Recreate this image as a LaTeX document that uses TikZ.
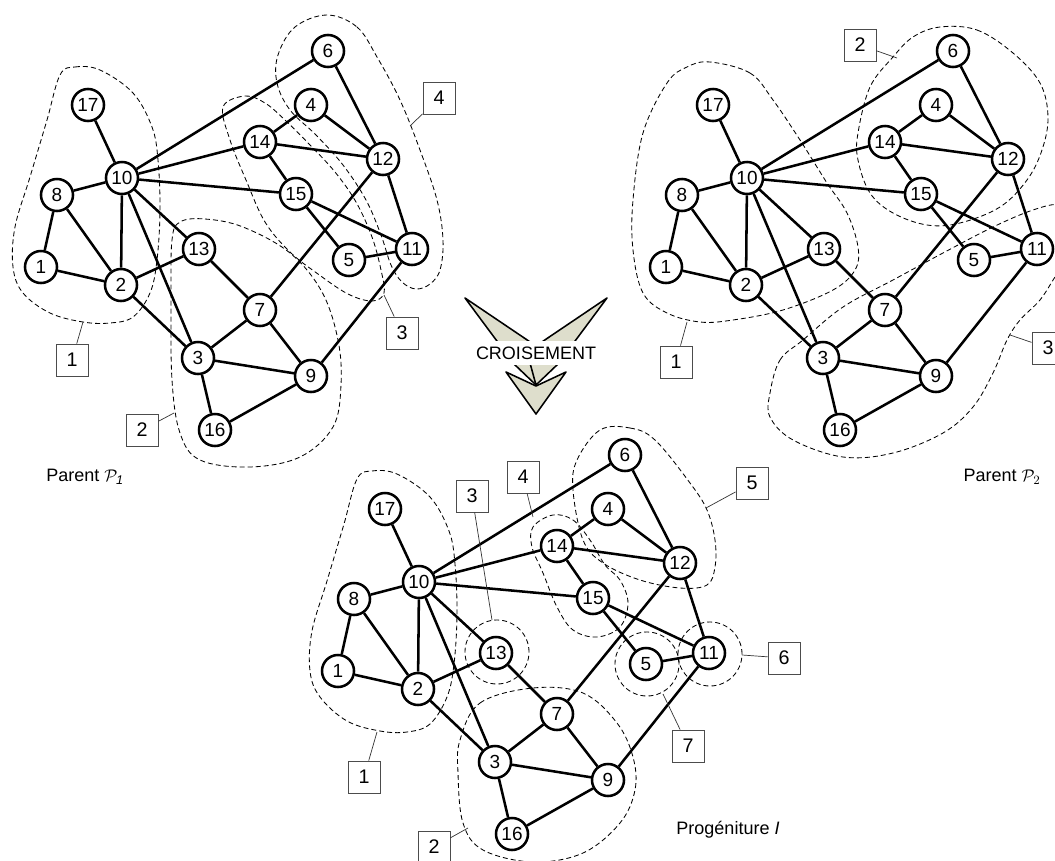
\documentclass[tikz,border=0pt]{standalone}
\usepackage{fontspec}
\setmainfont{Liberation Sans}

\definecolor{kaki}{RGB}{222,222,204}

\tikzset{
  sommet/.style={circle,draw,line width=1.8pt,fill=white,minimum size=0.8cm,inner sep=0pt,font=\fontsize{13.5}{15}\selectfont},
  arete/.style={line width=1.8pt},
  zone/.style={dash pattern=on 3.5pt off 2.2pt,line width=0.6pt},
  etiq/.style={draw=black!70,line width=0.6pt,fill=white,minimum size=0.8cm,inner sep=0pt,font=\fontsize{14}{16}\selectfont},
  renvoi/.style={line width=0.5pt,black!80},
  fleche/.style={draw,fill=kaki,line width=1.1pt,line join=round}
}

% un graphe complet, #1 = prefixe des noms
\newcommand{\graphe}[1]{%
  \node[sommet] (#1-1)  at (41,267)  {1};
  \node[sommet] (#1-2)  at (121,285) {2};
  \node[sommet] (#1-3)  at (198,358) {3};
  \node[sommet] (#1-4)  at (311,105) {4};
  \node[sommet] (#1-5)  at (349,260) {5};
  \node[sommet] (#1-6)  at (328,51)  {6};
  \node[sommet] (#1-7)  at (260,310) {7};
  \node[sommet] (#1-8)  at (57,195)  {8};
  \node[sommet] (#1-9)  at (311,376) {9};
  \node[sommet] (#1-10) at (122,178) {10};
  \node[sommet] (#1-11) at (412,249) {11};
  \node[sommet] (#1-12) at (383,159) {12};
  \node[sommet] (#1-13) at (199,249) {13};
  \node[sommet] (#1-14) at (260,142) {14};
  \node[sommet] (#1-15) at (296,194) {15};
  \node[sommet] (#1-16) at (215,430) {16};
  \node[sommet] (#1-17) at (88,105)  {17};
  \draw[arete] (#1-17) -- (#1-10) (#1-10) -- (#1-8) (#1-10) -- (#1-6)
    (#1-10) -- (#1-14) (#1-10) -- (#1-15) (#1-10) -- (#1-2) (#1-10) -- (#1-13)
    (#1-10) -- (#1-3) (#1-8) -- (#1-1) (#1-8) -- (#1-2) (#1-1) -- (#1-2)
    (#1-2) -- (#1-13) (#1-2) -- (#1-3) (#1-13) -- (#1-7) (#1-7) -- (#1-3)
    (#1-7) -- (#1-9) (#1-7) -- (#1-12) (#1-3) -- (#1-9) (#1-3) -- (#1-16)
    (#1-16) -- (#1-9) (#1-9) -- (#1-11) (#1-11) -- (#1-5) (#1-11) -- (#1-15)
    (#1-11) -- (#1-12) (#1-15) -- (#1-5) (#1-15) -- (#1-14) (#1-14) -- (#1-4)
    (#1-14) -- (#1-12) (#1-4) -- (#1-12) (#1-6) -- (#1-12);
}

\begin{document}
\begin{tikzpicture}[x=0.025cm,y=-0.025cm,font=\fontsize{12.8}{15}\selectfont]
\useasboundingbox (0,0) rectangle (1055,861);

% parent 1
\draw[zone] plot[smooth cycle,tension=0.6] coordinates {(60,75) (75,67) (100,70) (133,93) (152,127) (158,160) (160,210) (157,260) (150,293) (133,317) (110,323) (83,322) (50,313) (23,293) (13,267) (15,227) (30,177) (47,120)};
\draw[zone] plot[smooth cycle,tension=0.6] coordinates {(180,222) (205,219) (243,227) (290,253) (322,292) (338,340) (341,385) (333,427) (300,457) (250,467) (200,460) (180,433) (172,380) (171,300) (172,240)};
\draw[zone] plot[smooth cycle,tension=0.6] coordinates {(223,107) (245,96) (265,103) (285,120) (310,145) (335,172) (356,202) (372,237) (381,270) (384,293) (372,301) (348,294) (318,274) (290,252) (265,222) (246,180) (230,140)};
\draw[zone] plot[smooth cycle,tension=0.6] coordinates {(327,15) (357,27) (377,57) (400,100) (420,150) (437,200) (443,240) (440,270) (430,284) (416,289) (402,282) (391,265) (381,235) (366,200) (343,165) (316,135) (290,110) (277,83) (278,55) (295,27)};
\graphe{p}
\node[etiq] (a1) at (72,360) {1};
\node[etiq] (a2) at (142,430) {2};
\node[etiq] (a3) at (402,333) {3};
\node[etiq] (a4) at (439,98) {4};
\coordinate (za1) at (83,322);
\coordinate (za2) at (174,413);
\coordinate (za3) at (384,295);
\coordinate (za4) at (410,126);
\draw[renvoi] (a1) -- (za1);
\draw[renvoi] (a2) -- (za2);
\draw[renvoi] (a3) -- (za3);
\draw[renvoi] (a4) -- (za4);
\node (np1) at (85,477) {Parent $\mathcal{P}_{\mathit{1}}$};

% parent 2
\draw[zone] plot[smooth cycle,tension=0.6] coordinates {(710,62) (750,73) (773,100) (800,140) (827,183) (847,213) (858,247) (855,270) (833,290) (783,310) (733,320) (700,322) (667,313) (643,293) (633,250) (633,200) (643,133) (667,83) (687,67)};
\draw[zone] plot[smooth cycle,tension=0.6] coordinates {(940,27) (977,30) (1013,53) (1040,83) (1048,117) (1042,150) (1027,180) (1000,207) (960,223) (927,225) (893,213) (870,193) (858,160) (858,133) (870,87) (893,57) (913,37)};
\draw[zone] plot[smooth cycle,tension=0.6] coordinates {(770,393) (780,360) (803,340) (843,307) (893,280) (943,253) (993,227) (1033,210) (1060,205) (1075,220) (1070,255) (1055,277) (1040,300) (1020,320) (1007,340) (993,373) (973,407) (943,433) (893,453) (843,457) (793,440) (770,417)};
\begin{scope}[shift={(625,0)}]
\graphe{q}
\end{scope}
\node[etiq] (b1) at (676,362) {1};
\node[etiq] (b2) at (860,45) {2};
\node[etiq] (b3) at (1048,348) {3};
\coordinate (zb1) at (687,322);
\coordinate (zb2) at (897,58);
\coordinate (zb3) at (1010,335);
\draw[renvoi] (b1) -- (zb1);
\draw[renvoi] (b2) -- (zb2);
\draw[renvoi] (b3) -- (zb3);
\node (np2) at (1002,477) {Parent $\mathcal{P}_2$};

% croisement
\draw[fleche] (465,298) -- (545,352) -- (536,385) -- (514,364) -- cycle;
\draw[fleche] (607,298) -- (527,352) -- (536,385) -- (558,364) -- cycle;
\draw[fleche] (506,372) -- (536,386) -- (566,372) -- (536,414) -- cycle;
\node[fill=white,inner xsep=1pt,inner ysep=4pt] (crois) at (536,353) {CROISEMENT};

% progeniture
\draw[zone] plot[smooth cycle,tension=0.6] coordinates {(357,479) (372,471) (397,474) (430,497) (449,531) (455,564) (457,614) (454,664) (447,697) (430,724) (407,732) (380,731) (347,721) (320,697) (310,671) (312,631) (327,581) (344,524)};
\draw[zone] plot[smooth cycle,tension=0.6] coordinates {(460,740) (480,703) (533,688) (583,693) (617,723) (633,757) (635,790) (620,823) (583,853) (533,862) (483,850) (463,823) (458,773)};
\draw[zone] (497,652) circle[radius=0.8cm];
\draw[zone] plot[smooth cycle,tension=0.6] coordinates {(553,515) (573,520) (590,540) (605,565) (620,580) (628,603) (620,627) (597,637) (573,630) (557,607) (543,573) (532,547) (533,527)};
\draw[zone] plot[smooth cycle,tension=0.6] coordinates {(600,430) (630,428) (655,440) (690,483) (707,510) (715,540) (715,567) (707,585) (680,588) (640,580) (603,563) (583,540) (573,490) (577,460)};
\draw[zone] (710,654) circle[radius=0.8cm];
\draw[zone] (647,664) circle[radius=0.8cm];
\begin{scope}[shift={(297,404)}]
\graphe{r}
\end{scope}
\node[etiq] (c1) at (364,777) {1};
\node[etiq] (c2) at (434,847) {2};
\node[etiq] (c3) at (472,496) {3};
\node[etiq] (c4) at (523,477) {4};
\node[etiq] (c5) at (752,483) {5};
\node[etiq] (c6) at (784,658) {6};
\node[etiq] (c7) at (688,746) {7};
\coordinate (zc1) at (377,732);
\coordinate (zc2) at (468,828);
\coordinate (zc3) at (492,620);
\coordinate (zc4) at (533,517);
\coordinate (zc5) at (706,508);
\coordinate (zc6) at (742,655);
\coordinate (zc7) at (663,694);
\draw[renvoi] (c1) -- (zc1);
\draw[renvoi] (c2) -- (zc2);
\draw[renvoi] (c3) -- (zc3);
\draw[renvoi] (c4) -- (zc4);
\draw[renvoi] (c5) -- (zc5);
\draw[renvoi] (c6) -- (zc6);
\draw[renvoi] (c7) -- (zc7);
\node (npr) at (728,830) {Progéniture \textit{I}};
\end{tikzpicture}
\end{document}
